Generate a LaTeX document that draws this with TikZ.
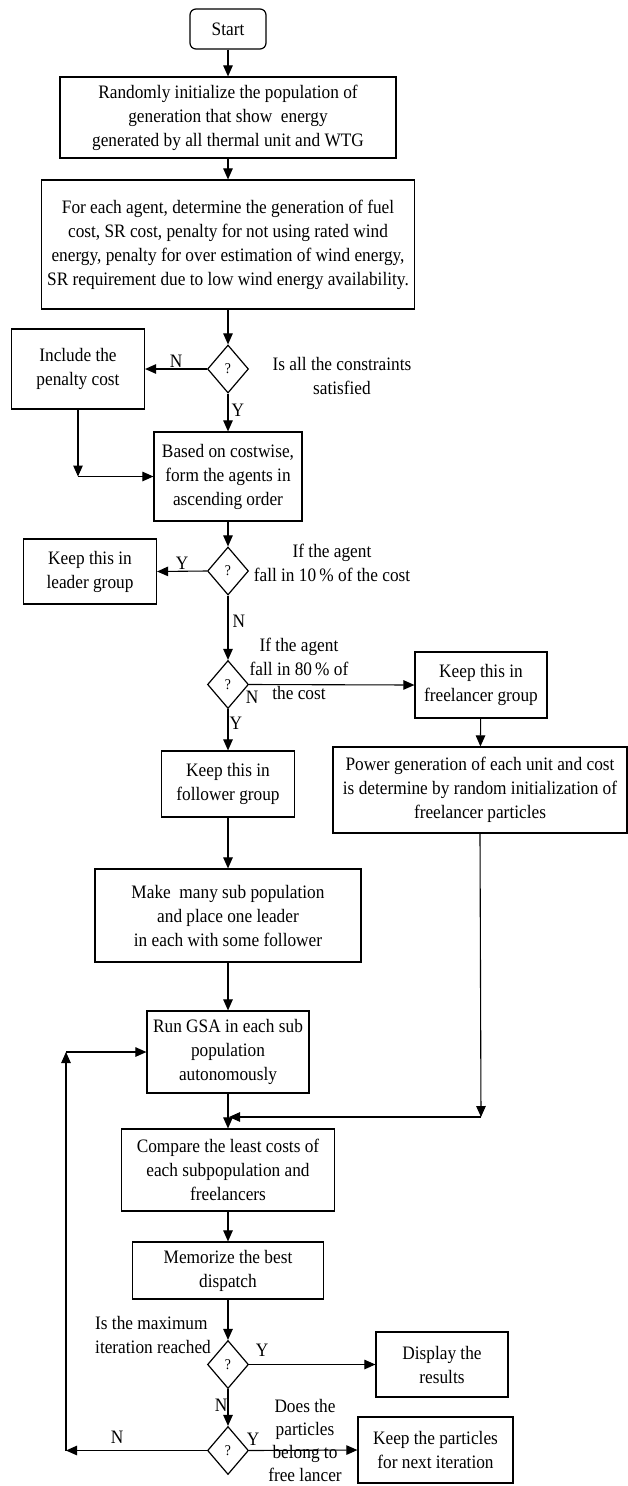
\documentclass[tikz,border=0pt]{standalone}
\usepackage{fontspec}
\setmainfont{Liberation Serif}[FakeStretch=0.91]
\usetikzlibrary{arrows.meta,shapes.geometric}
\begin{document}
\begin{tikzpicture}[x=1pt,y=-1pt,
  every node/.style={font=\fontsize{19}{24}\selectfont},
  box/.style={draw,line width=1.2pt,inner sep=0pt,align=center},
  startbox/.style={box,rounded corners=6pt},
  dec/.style={draw,diamond,line width=1.2pt,inner sep=0pt,minimum width=41pt,minimum height=48pt,font=\fontsize{15}{18}\selectfont},
  note/.style={inner sep=0pt,align=center},
  lbl/.style={inner sep=0pt},
  arr/.style={line width=1.1pt,-{Triangle[length=11pt,width=9.5pt]}},
  ln/.style={line width=1.1pt}]
\useasboundingbox (0,0) rectangle (628,1486);
\fill[white] (0,0) rectangle (628,1486);

\node[startbox,minimum width=76pt,minimum height=40pt] (start) at (228,29) {Start};
\node[box,minimum width=336pt,minimum height=81pt] (init) at (228,117.5) {Randomly initialize the population of\\generation that show\ \ energy\\generated by all thermal unit and WTG};
\node[box,minimum width=373pt,minimum height=129pt] (eval) at (228,244.5) {For each agent, determine the generation of fuel\\cost, SR cost, penalty for not using rated wind\\energy, penalty for over estimation of wind energy,\\SR requirement due to low wind energy availability.};
\node[dec] (d1) at (228,369) {?};
\node[box,minimum width=133pt,minimum height=80pt] (pen) at (78,369) {Include the\\penalty cost};
\node[note] (t1) at (342,375.5) {Is all the constraints\\satisfied};
\node[box,minimum width=148pt,minimum height=89pt] (sort) at (228,476.5) {Based on costwise,\\form the agents in\\ascending order};
\node[dec] (d2) at (228,571) {?};
\node[box,minimum width=133pt,minimum height=65pt] (lead) at (90,571.5) {Keep this in\\leader group};
\node[note] (t2) at (332,563) {If the agent\\fall in 10\,\% of the cost};
\node[dec] (d3) at (228,684.5) {?};
\node[note] (t3) at (299,669) {If the agent\\fall in 80\,\% of\\the cost};
\node[box,minimum width=132pt,minimum height=66pt] (free) at (481,685) {Keep this in\\freelancer group};
\node[box,minimum width=133pt,minimum height=66pt] (foll) at (228,784) {Keep this in\\follower group};
\node[box,minimum width=294pt,minimum height=86pt] (pow) at (480,790) {Power generation of each unit and cost\\is determine by random initialization of\\freelancer particles};
\node[box,minimum width=266pt,minimum height=93pt] (make) at (228,915.5) {Make\ \ many sub population\\and place one leader\\in each with some follower};
\node[box,minimum width=162pt,minimum height=82pt] (run) at (228,1052) {Run GSA in each sub\\population\\autonomously};
\node[box,minimum width=213pt,minimum height=82pt] (comp) at (228,1170) {Compare the least costs of\\each subpopulation and\\freelancers};
\node[box,minimum width=191pt,minimum height=57pt] (memo) at (228,1270.5) {Memorize the best\\dispatch};
\node[dec] (d4) at (228,1364.5) {?};
\node[note,align=left,anchor=west] (t4) at (95,1335) {Is the maximum\\iteration reached};
\node[box,minimum width=132pt,minimum height=65pt] (disp) at (442,1364.5) {Display the\\results};
\node[dec] (d5) at (228,1450.5) {?};
\node[note,font=\fontsize{19}{23}\selectfont] (t5) at (305,1440) {Does the\\particles\\belong to\\free lancer};
\node[box,minimum width=155pt,minimum height=66pt] (keep) at (435.5,1450) {Keep the particles\\for next iteration};

\coordinate (cA) at (78,476.5);
\coordinate (cB) at (481,1117);
\coordinate (cJ) at (229,1117);
\coordinate (cC) at (66,1450.5);
\coordinate (cD) at (66,1052);

\draw[arr] (start) -- (init);
\draw[arr] (init) -- (eval);
\draw[arr] (eval) -- (d1);
\draw[arr] (d1.west) -- (pen.east) node[lbl,pos=0.5,above=1pt] {N};
\draw[arr] (d1.south) -- (sort.north) node[lbl,pos=0.45,right=3pt] {Y};
\draw[arr] (pen.south) -- (cA);
\draw[arr] (cA) -- (sort.west);
\draw[arr] (sort) -- (d2);
\draw[arr] (d2.west) -- (lead.east) node[lbl,pos=0.5,above=1pt] {Y};
\draw[arr] (d2.south) -- (d3.north) node[lbl,pos=0.4,right=4pt] {N};
\draw[arr] (d3.east) -- (free.west);
\node[lbl] at (252,697) {N};
\draw[arr] (d3.south) -- (foll.north) node[lbl,pos=0.35,right=1pt] {Y};
\draw[arr] (free) -- (pow);
\draw[arr] (foll) -- (make);
\draw[arr] (make) -- (run);
\draw[arr] (pow.south) -- (cB);
\draw[arr] (cB) -- (cJ);
\draw[arr] (run) -- (comp);
\draw[arr] (comp) -- (memo);
\draw[arr] (memo) -- (d4);
\draw[arr] (d4.east) -- (disp.west);
\node[lbl] at (262,1350) {Y};
\draw[arr] (d4.south) -- (d5.north) node[lbl,pos=0.45,left=0pt] {N};
\draw[arr] (d5.east) -- (keep.west);
\node[lbl] at (253,1439) {Y};
\draw[arr] (d5.west) -- (cC);
\node[lbl] at (117,1437) {N};
\draw[arr] (cC) -- (cD);
\draw[arr] (cD) -- (run.west);
\end{tikzpicture}
\end{document}
